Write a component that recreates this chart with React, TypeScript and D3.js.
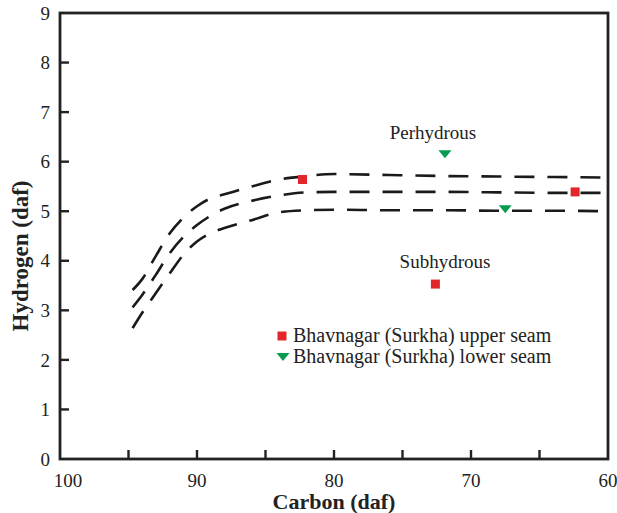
import React from "react";
import * as d3 from "d3";

// carbon (daf) sample positions along the three boundary curves
const carbon = [94.7, 94, 93, 92, 91, 90, 89, 88, 86, 84, 82, 80, 76, 72, 68, 64, 60];
const upperLine = [3.41, 3.63, 4.1, 4.55, 4.87, 5.1, 5.26, 5.34, 5.5, 5.64, 5.71, 5.75, 5.73, 5.71, 5.7, 5.69, 5.68];
const middleLine = [3.06, 3.31, 3.72, 4.15, 4.48, 4.72, 4.91, 5.05, 5.21, 5.32, 5.38, 5.39, 5.39, 5.39, 5.38, 5.37, 5.37];
const lowerLine = [2.64, 2.95, 3.35, 3.74, 4.12, 4.39, 4.56, 4.66, 4.82, 4.98, 5.02, 5.03, 5.02, 5.02, 5.01, 5.01, 5.0];

// samples
const upperSeamC = [82.3, 62.4, 72.6];
const upperSeamH = [5.64, 5.39, 3.53];
const lowerSeamC = [71.9, 67.5];
const lowerSeamH = [6.15, 5.04];

const xTicks = [95, 90, 85, 80, 75, 70, 65];
const xLabels = [100, 90, 80, 70, 60];
const yTicks = [1, 2, 3, 4, 5, 6, 7, 8];
const yLabels = [0, 1, 2, 3, 4, 5, 6, 7, 8, 9];

const RED = "#e3262b";
const GREEN = "#079c4f";
const INK = "#222";
const FONT = "'Liberation Serif', 'Times New Roman', serif";

export default function App() {
  const width = 617;
  const height = 513;
  const x = d3.scaleLinear().domain([100, 60]).range([60, 608]);
  const y = d3.scaleLinear().domain([0, 9]).range([459, 13]);

  const line = d3
    .line<number>()
    .x((_, i) => x(carbon[i]))
    .y((d) => y(d))
    .curve(d3.curveMonotoneX);

  const square = (cx: number, cy: number) => (
    <rect x={cx - 4.5} y={cy - 4.5} width={9} height={9} fill={RED} />
  );
  const triangle = (cx: number, cy: number) => (
    <path d={`M${cx - 6.5},${cy - 4} L${cx + 6.5},${cy - 4} L${cx},${cy + 4} Z`} fill={GREEN} />
  );

  return (
    <svg width={width} height={height} style={{ position: "absolute", left: 0, top: 0, background: "#fff" }}>
      <g fontFamily={FONT} fill={INK}>
        {[upperLine, middleLine, lowerLine].map((s, i) => (
          <path key={i} d={line(s) || ""} fill="none" stroke="#1a1a1a" strokeWidth={2.6} strokeDasharray="20 13" />
        ))}

        {upperSeamC.map((c, i) => (
          <g key={"u" + i}>{square(x(c), y(upperSeamH[i]))}</g>
        ))}
        {lowerSeamC.map((c, i) => (
          <g key={"l" + i}>{triangle(x(c), y(lowerSeamH[i]))}</g>
        ))}

        {/* frame */}
        <rect x={x(100)} y={y(9)} width={x(60) - x(100)} height={y(0) - y(9)} fill="none" stroke={INK} strokeWidth={2.8} />
        {xTicks.map((t) => (
          <line key={t} x1={x(t)} x2={x(t)} y1={y(0)} y2={y(0) - 9} stroke={INK} strokeWidth={2.4} />
        ))}
        {yTicks.map((t) => (
          <line key={t} x1={x(100)} x2={x(100) + 9} y1={y(t)} y2={y(t)} stroke={INK} strokeWidth={2.4} />
        ))}
        {xLabels.map((t) => (
          <text key={t} x={x(t) + (t === 100 ? 8 : 0)} y={487} textAnchor="middle" fontSize={19}>
            {t}
          </text>
        ))}
        {yLabels.map((t) => (
          <text key={t} x={50} y={y(t)} dy="0.35em" textAnchor="end" fontSize={19}>
            {t}
          </text>
        ))}

        <text x={334} y={509} textAnchor="middle" fontSize={22} fontWeight="bold">
          Carbon (daf)
        </text>
        <text transform="translate(28,256) rotate(-90)" textAnchor="middle" fontSize={23} fontWeight="bold">
          Hydrogen (daf)
        </text>

        <text x={433} y={139} textAnchor="middle" fontSize={19}>
          Perhydrous
        </text>
        <text x={445} y={268} textAnchor="middle" fontSize={19}>
          Subhydrous
        </text>

        {/* legend */}
        {square(282, 336)}
        <text x={293} y={342} fontSize={20}>
          Bhavnagar (Surkha) upper seam
        </text>
        {triangle(283, 357)}
        <text x={293} y={363} fontSize={20}>
          Bhavnagar (Surkha) lower seam
        </text>
      </g>
    </svg>
  );
}
